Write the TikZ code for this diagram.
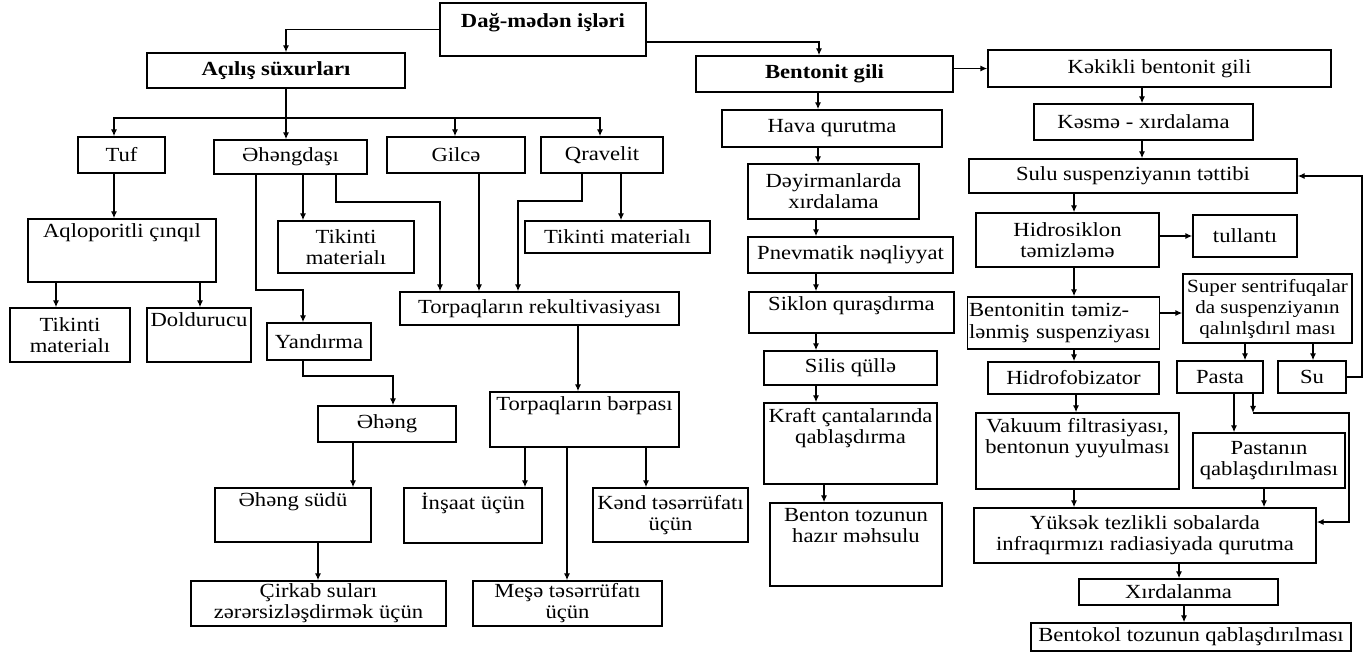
\documentclass[tikz,border=0pt]{standalone}
\usepackage{fontspec}
\setmainfont{Liberation Serif}[FakeStretch=1.13]
\usetikzlibrary{arrows.meta,positioning,calc}

\begin{document}
\begin{tikzpicture}[x=0.02cm, y=-0.02cm,
    font=\fontsize{11.4}{12}\selectfont,
    box/.style={rectangle, draw, line width=0.8pt, inner sep=1pt, align=center},
    tbox/.style={box, label={[anchor=north, inner sep=3pt, align=center]north:{#1}}},
    arrow/.style={-{Latex[length=4pt, width=3.5pt]}, line width=0.8pt},
    line/.style={line width=0.8pt}
]
\useasboundingbox (0,0) rectangle (1365,653);

\node[box, minimum width=4.12cm, minimum height=1.06cm, label={[anchor=north, inner sep=6pt]north:\textbf{Dağ-mədən işləri}}] (dag) at (543,29.5) {};
\node[box, minimum width=5.16cm, minimum height=0.70cm] (acl) at (276,70.5) {\textbf{Açılış süxurları}};
\node[box, minimum width=1.74cm, minimum height=0.72cm] (tuf) at (121.5,155) {Tuf};
\node[box, minimum width=3.06cm, minimum height=0.68cm] (ehd) at (290.5,157) {Əhəngdaşı};
\node[box, minimum width=2.76cm, minimum height=0.72cm] (gil) at (456,155) {Gilcə};
\node[box, minimum width=2.44cm, minimum height=0.72cm] (qra) at (602,155) {Qravelit};
\node[tbox={Aqloporitli çınqıl}, minimum width=3.76cm, minimum height=1.26cm] (aql) at (122,250.5) {};
\node[box, minimum width=2.72cm, minimum height=1.04cm] (tik2) at (346,247) {Tikinti\\materialı};
\node[box, minimum width=3.70cm, minimum height=0.64cm] (tik3) at (617.5,237) {Tikinti materialı};
\node[box, minimum width=2.40cm, minimum height=1.08cm] (tik1) at (70,335) {Tikinti\\materialı};
\node[tbox={Doldurucu}, minimum width=2.08cm, minimum height=1.08cm] (dol) at (199,335) {};
\node[box, minimum width=2.08cm, minimum height=0.74cm] (yan) at (319,341.5) {Yandırma};
\node[box, minimum width=5.58cm, minimum height=0.66cm] (rek) at (539.5,308.5) {Torpaqların rekultivasiyası};
\node[box, minimum width=2.76cm, minimum height=0.72cm] (ehg) at (387,424) {Əhəng};
\node[tbox={Torpaqların bərpası}, minimum width=3.78cm, minimum height=1.10cm] (ber) at (584.5,419.5) {};
\node[tbox={Əhəng südü}, minimum width=3.12cm, minimum height=1.08cm] (sud) at (293,515) {};
\node[tbox={İnşaat üçün}, minimum width=2.76cm, minimum height=1.10cm] (ins) at (473,515.5) {};
\node[box, minimum width=3.10cm, minimum height=1.08cm] (ken) at (670.5,515) {Kənd təsərrüfatı\\üçün};
\node[box, minimum width=5.10cm, minimum height=0.90cm] (cir) at (318.5,603.5) {Çirkab suları\\zərərsizləşdirmək üçün};
\node[box, minimum width=3.78cm, minimum height=0.90cm] (mes) at (567.5,603.5) {Meşə təsərrüfatı\\üçün};

\node[box, minimum width=5.14cm, minimum height=0.72cm] (ben) at (824.5,74) {\textbf{Bentonit gili}};
\node[box, minimum width=6.86cm, minimum height=0.74cm] (kek) at (1159.5,68.5) {Kəkikli bentonit gili};
\node[box, minimum width=4.40cm, minimum height=0.74cm] (hav) at (832,128.5) {Hava qurutma};
\node[box, minimum width=3.42cm, minimum height=1.10cm] (dey) at (833.5,191.5) {Dəyirmanlarda\\xırdalama};
\node[box, minimum width=4.38cm, minimum height=0.72cm] (kes) at (1143.5,122) {Kəsmə - xırdalama};
\node[box, minimum width=6.56cm, minimum height=0.68cm] (sul) at (1133,176) {Sulu suspenziyanın təttibi};
\node[box, minimum width=4.10cm, minimum height=0.72cm] (pne) at (850.5,255) {Pnevmatik nəqliyyat};
\node[tbox={Siklon quraşdırma}, minimum width=4.10cm, minimum height=0.82cm] (sik) at (851.5,312.5) {};
\node[box, minimum width=3.46cm, minimum height=0.68cm] (sil) at (850.5,368) {Silis qüllə};
\node[box, minimum width=3.66cm, minimum height=1.08cm] (hid) at (1067.5,240) {Hidrosiklon\\təmizləmə};
\node[box, minimum width=2.08cm, minimum height=0.84cm] (tul) at (1245,236) {tullantı};
\node[box, minimum width=3.82cm, minimum height=1.04cm, text width=3.78cm, align=left] (bts) at (1063.5,323) {Bentonitin təmiz-\\lənmiş suspenziyası};
\node[box, minimum width=3.38cm, minimum height=1.38cm, font=\fontsize{10.6}{12}\selectfont] (sup) at (1267.5,308.5) {Super sentrifuqalar\\da suspenziyanın\\qalınlşdırıl ması};
\node[box, minimum width=3.42cm, minimum height=0.64cm] (hfb) at (1073.5,378) {Hidrofobizator};
\node[box, minimum width=1.72cm, minimum height=0.64cm] (pas) at (1220,377) {Pasta};
\node[box, minimum width=1.36cm, minimum height=0.64cm] (su) at (1312,377) {Su};
\node[tbox={Kraft çantalarında\\qablaşdırma}, minimum width=3.46cm, minimum height=1.62cm] (kra) at (850.5,443.5) {};
\node[tbox={Benton tozunun\\hazır məhsulu}, minimum width=3.44cm, minimum height=1.66cm] (bto) at (856,544.5) {};
\node[tbox={Vakuum filtrasiyası,\\bentonun yuyulması}, minimum width=4.06cm, minimum height=1.52cm] (vak) at (1077.5,451) {};
\node[box, minimum width=3.04cm, minimum height=1.10cm] (pqb) at (1269,460.5) {Pastanın\\qablaşdırılması};
\node[box, minimum width=6.84cm, minimum height=1.10cm] (yuk) at (1145,535.5) {Yüksək tezlikli sobalarda\\infraqırmızı radiasiyada qurutma};
\node[box, minimum width=3.98cm, minimum height=0.52cm] (xir) at (1178.5,592) {Xırdalanma};
\node[box, minimum width=6.40cm, minimum height=0.56cm] (bko) at (1191,637) {Bentokol tozunun qablaşdırılması};

\draw[arrow] (dag.west) -| (286,0 |- acl.north);
\coordinate (bar) at (286,118);
\draw[line] (286,0 |- acl.south) -- (bar);
\draw[arrow] (bar) -| (114,0 |- tuf.north);
\draw[arrow] (bar) -- (bar |- ehd.north);
\draw[arrow] (bar) -| (455,0 |- gil.north);
\draw[arrow] (bar) -| (600,0 |- qra.north);
\draw[arrow] (114,0 |- tuf.south) -- (114,0 |- aql.north);
\draw[arrow] (56,0 |- aql.south) -- (56,0 |- tik1.north);
\draw[arrow] (200,0 |- aql.south) -- (200,0 |- dol.north);
\draw[arrow] (256,0 |- ehd.south) |- (303,290) -- (303,0 |- yan.north);
\draw[arrow] (303,0 |- ehd.south) -- (303,0 |- tik2.north);
\draw[arrow] (336,0 |- ehd.south) |- (440,202) -- (440,0 |- rek.north);
\draw[arrow] (479,0 |- gil.south) -- (479,0 |- rek.north);
\draw[arrow] (582,0 |- qra.south) |- (518,201) -- (518,0 |- rek.north);
\draw[arrow] (621,0 |- qra.south) -- (621,0 |- tik3.north);
\draw[arrow] (303,0 |- yan.south) |- (393,376) -- (393,0 |- ehg.north);
\draw[arrow] (353,0 |- ehg.south) -- (353,0 |- sud.north);
\draw[arrow] (578,0 |- rek.south) -- (578,0 |- ber.north);
\draw[arrow] (525,0 |- ber.south) -- (525,0 |- ins.north);
\draw[arrow] (567,0 |- ber.south) -- (567,0 |- mes.north);
\draw[arrow] (646,0 |- ber.south) -- (646,0 |- ken.north);
\draw[arrow] (318,0 |- sud.south) -- (318,0 |- cir.north);

\draw[arrow] (dag.east |- 0,42) -| (819,0 |- ben.north);
\draw[arrow] (ben.east |- kek.west) -- (kek.west);
\draw[arrow] (818,0 |- ben.south) -- (818,0 |- hav.north);
\draw[arrow] (818,0 |- hav.south) -- (818,0 |- dey.north);
\draw[arrow] (816,0 |- dey.south) -- (816,0 |- pne.north);
\draw[arrow] (816,0 |- pne.south) -- (816,0 |- sik.north);
\draw[arrow] (816,0 |- sik.south) -- (816,0 |- sil.north);
\draw[arrow] (816,0 |- sil.south) -- (816,0 |- kra.north);
\draw[arrow] (824,0 |- kra.south) -- (824,0 |- bto.north);
\draw[arrow] (1142,0 |- kek.south) -- (1142,0 |- kes.north);
\draw[arrow] (1142,0 |- kes.south) -- (1142,0 |- sul.north);
\draw[arrow] (1074,0 |- sul.south) -- (1074,0 |- hid.north);
\draw[arrow] (hid.east |- tul.west) -- (tul.west);
\draw[arrow] (1074,0 |- hid.south) -- (1074,0 |- bts.north);
\draw[arrow] (bts.east |- 0,313) -- (sup.west |- 0,313);
\draw[arrow] (1074,0 |- bts.south) -- (1074,0 |- hfb.north);
\draw[arrow] (1245,0 |- sup.south) -- (1245,0 |- pas.north);
\draw[arrow] (1313,0 |- sup.south) -- (1313,0 |- su.north);
\draw[arrow] (su.east) -- (1362,0 |- su.east) |- (sul.east);
\draw[arrow] (1076,0 |- hfb.south) -- (1076,0 |- vak.north);
\draw[arrow] (1234,0 |- pas.south) -- (1234,0 |- pqb.north);
\coordinate (pj) at (1253,413);
\draw[arrow] (1253,0 |- pas.south) -- (pj);
\draw[arrow] (pj) -| (1349,522) -- (yuk.east |- 0,522);
\draw[arrow] (1074,0 |- vak.south) -- (1074,0 |- yuk.north);
\draw[arrow] (1264,0 |- pqb.south) -- (1264,0 |- yuk.north);
\draw[arrow] (1179,0 |- yuk.south) -- (1179,0 |- xir.north);
\draw[arrow] (1184,0 |- xir.south) -- (1184,0 |- bko.north);
\end{tikzpicture}
\end{document}
